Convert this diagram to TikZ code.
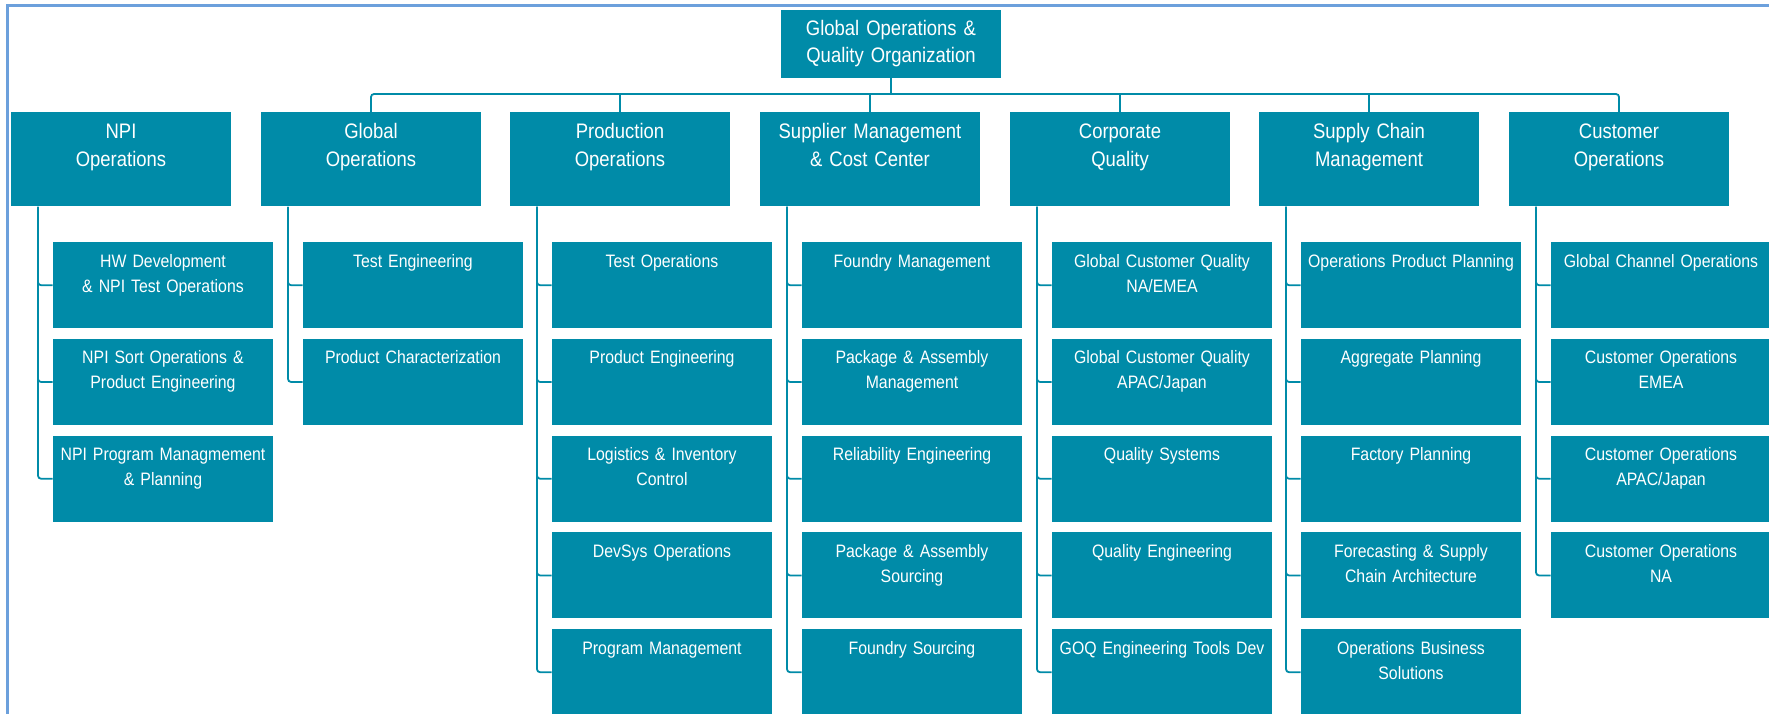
\documentclass[tikz,border=0pt]{standalone}
\usepackage{fontspec}
\setmainfont{Liberation Sans}[FakeStretch=0.88]
\usetikzlibrary{positioning}
\definecolor{orgteal}{RGB}{0,139,168}
\definecolor{frameblue}{RGB}{108,160,220}
\tikzset{
  unit/.style={fill=orgteal, text=white, inner sep=0pt, minimum width=110pt, text width=110pt, align=center},
  rootbox/.style={unit, font=\fontsize{10.5}{13.3}\selectfont, minimum height=34pt},
  headbox/.style={unit, font=\fontsize{10.5}{14}\selectfont, anchor=north, text height=13.25pt, text depth=33.75pt},
  subbox/.style={unit, font=\fontsize{9}{12.4}\selectfont, anchor=north, text height=12.5pt, text depth=30.5pt},
  link/.style={draw=orgteal, line width=0.9pt, rounded corners=1.5pt}
}

\begin{document}
\begin{tikzpicture}[x=0.5pt, y=-0.5pt]
  \useasboundingbox (0,0) rectangle (1769,713);
  \clip (0,0) rectangle (1769,713);
  \draw[frameblue, line width=1.2pt] (7.5,730) -- (7.5,5.5) -- (1790,5.5);

  \node[rootbox] (goq) at (891,43.5) {Global Operations \&\\Quality Organization};

  % second level
  \foreach \col/\cx/\txt in {npi/121/{NPI\\Operations}, glob/371/{Global\\Operations},
      prod/620/{Production\\Operations}, supp/870/{Supplier Management\\\& Cost Center},
      corp/1120/{Corporate\\Quality}, sc/1369/{Supply Chain\\Management},
      cust/1619/{Customer\\Operations}}
    \node[headbox] (\col) at (\cx,112) {\txt};

  \coordinate (bus) at ([yshift=9pt]glob.north);
  \draw[link] (glob.north) -- (bus) -| (cust.north);
  \draw[link] (goq.south) -- (goq.south |- bus);
  \foreach \col in {prod, supp, corp, sc}
    \draw[link] (\col.north) -- (\col.north |- bus);

  % third level
  \foreach \col/\kids in {
      npi/{{HW Development\\\& NPI Test Operations}, {NPI Sort Operations \&\\Product Engineering},
           {NPI Program Managmement\\\& Planning}},
      glob/{{Test Engineering}, {Product Characterization}},
      prod/{{Test Operations}, {Product Engineering}, {Logistics \& Inventory\\Control},
            {DevSys Operations}, {Program Management}},
      supp/{{Foundry Management}, {Package \& Assembly\\Management}, {Reliability Engineering},
            {Package \& Assembly\\Sourcing}, {Foundry Sourcing}},
      corp/{{Global Customer Quality\\NA/EMEA}, {Global Customer Quality\\APAC/Japan},
            {Quality Systems}, {Quality Engineering}, {GOQ Engineering Tools Dev}},
      sc/{{Operations Product Planning}, {Aggregate Planning}, {Factory Planning},
          {Forecasting \& Supply\\Chain Architecture}, {Operations Business\\Solutions}},
      cust/{{Global Channel Operations}, {Customer Operations\\EMEA},
            {Customer Operations\\APAC/Japan}, {Customer Operations\\NA}}}
    \foreach \txt [count=\j from 0] in \kids {
      \pgfmathsetmacro\dy{17.5+48.375*\j}
      \node[subbox] (\col-\j) at ([xshift=21pt, yshift=-\dy pt]\col.south) {\txt};
      \draw[link] ([xshift=-41.5pt]\col.south) |- (\col-\j.west);
    };
\end{tikzpicture}
\end{document}
